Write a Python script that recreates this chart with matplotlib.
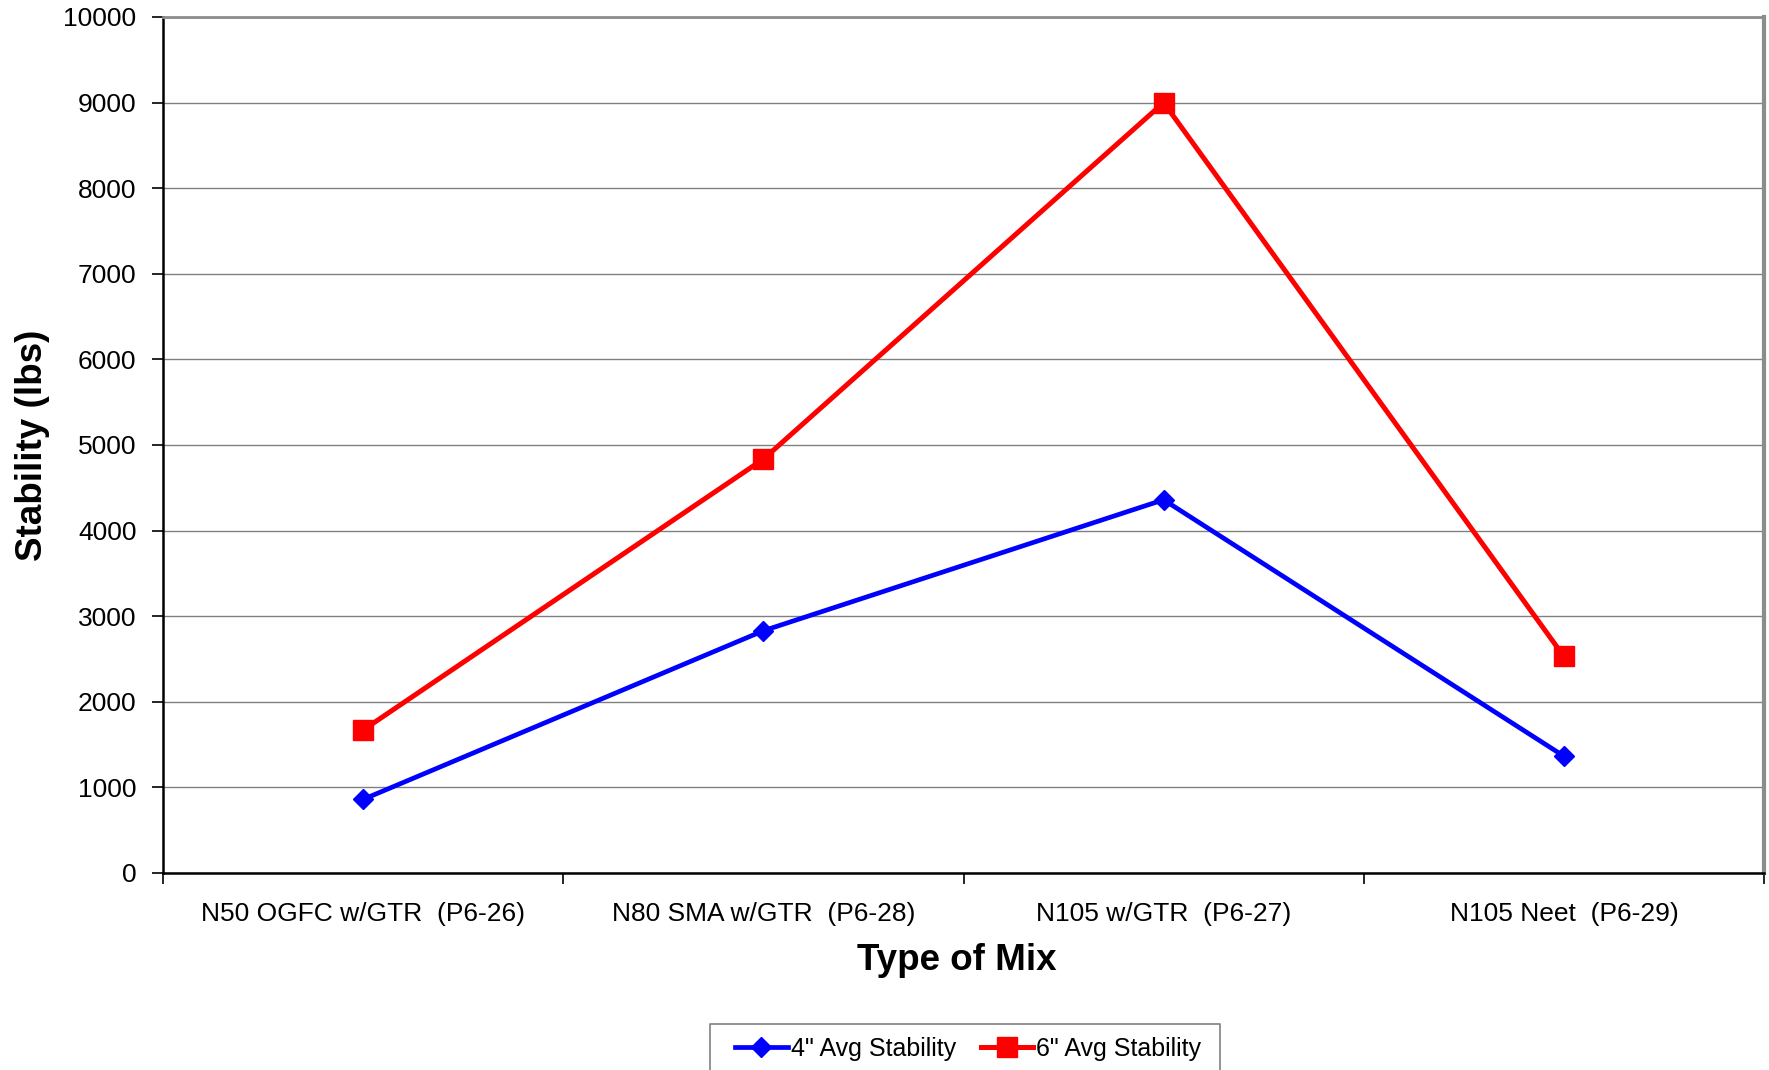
import matplotlib
matplotlib.use("Agg")
import matplotlib.pyplot as plt
from matplotlib.lines import Line2D
from matplotlib.ticker import FixedLocator, NullFormatter, FixedFormatter

# Marshall stability by mix type
categories = [
    "N50 OGFC w/GTR  (P6-26)",
    "N80 SMA w/GTR  (P6-28)",
    "N105 w/GTR  (P6-27)",
    "N105 Neet  (P6-29)",
]
stab_4in = [860, 2830, 4360, 1365]
stab_6in = [1670, 4835, 9000, 2530]
y_ticks = list(range(0, 10001, 1000))

plt.rcParams["font.family"] = ["Liberation Sans", "DejaVu Sans"]
plt.rcParams["savefig.bbox"] = "standard"

W, H = 1769, 1070
fig = plt.figure(figsize=(W / 100, H / 100), dpi=100)
ax = fig.add_axes([163 / W, 197 / H, 1601 / W, 856 / H])

x = [i + 0.5 for i in range(len(categories))]
ax.plot(x, stab_4in, color="#0000FF", lw=3.4, marker="D", ms=10.5,
        label='4" Avg Stability', zorder=3)
ax.plot(x, stab_6in, color="#FF0000", lw=3.6, marker="s", ms=14.5,
        label='6" Avg Stability', zorder=4)

ax.set_xlim(0, len(categories))
ax.set_ylim(0, 10000)

# y axis
ax.set_yticks(y_ticks)
ax.set_yticklabels([str(v) for v in y_ticks])
ax.yaxis.grid(True, color="#808080", lw=1.0)
ax.set_axisbelow(True)

# x axis: ticks at category boundaries, labels centred between them
ax.xaxis.set_major_locator(FixedLocator(range(len(categories) + 1)))
ax.xaxis.set_major_formatter(NullFormatter())
ax.xaxis.set_minor_locator(FixedLocator(x))
ax.xaxis.set_minor_formatter(FixedFormatter(categories))
ax.tick_params(axis="x", which="minor", length=0, labelsize=19, pad=21)
ax.tick_params(axis="x", which="major", length=8, width=1.2, direction="out")
ax.tick_params(axis="y", length=8, width=1.2, direction="out",
               labelsize=19, pad=11)

for side in ("left", "bottom"):
    ax.spines[side].set_color("black")
    ax.spines[side].set_linewidth(1.8)
ax.spines["top"].set_color("#8c8c8c")
ax.spines["top"].set_linewidth(2.0)
ax.spines["right"].set_color("#8c8c8c")
ax.spines["right"].set_linewidth(3.0)

ax.set_xlabel("Type of Mix", fontsize=26.5, fontweight="bold")
ax.xaxis.set_label_coords((957 - 163) / 1601, -(961 - 873) / 856)
ax.xaxis.label.set_verticalalignment("center")
ax.set_ylabel("Stability (lbs)", fontsize=26.5, fontweight="bold")
ax.yaxis.set_label_coords((50 - 163) / 1601, 0.5)

# legend frame: open at the bottom, where it meets the figure edge
bx0, bx1, by = 710 / W, 1220 / W, 1 - 1024 / H
fig.add_artist(Line2D([bx0, bx0, bx1, bx1], [0, by, by, 0],
                      transform=fig.transFigure, color="#808080", lw=1.2))
fig.legend(loc="center left", bbox_to_anchor=(735 / W, 1 - 1049 / H),
           ncol=2, fontsize=18, frameon=False, handlelength=2.1,
           handletextpad=0.12, columnspacing=1.0, borderpad=0,
           borderaxespad=0)

fig.savefig("out.png", dpi=100)
